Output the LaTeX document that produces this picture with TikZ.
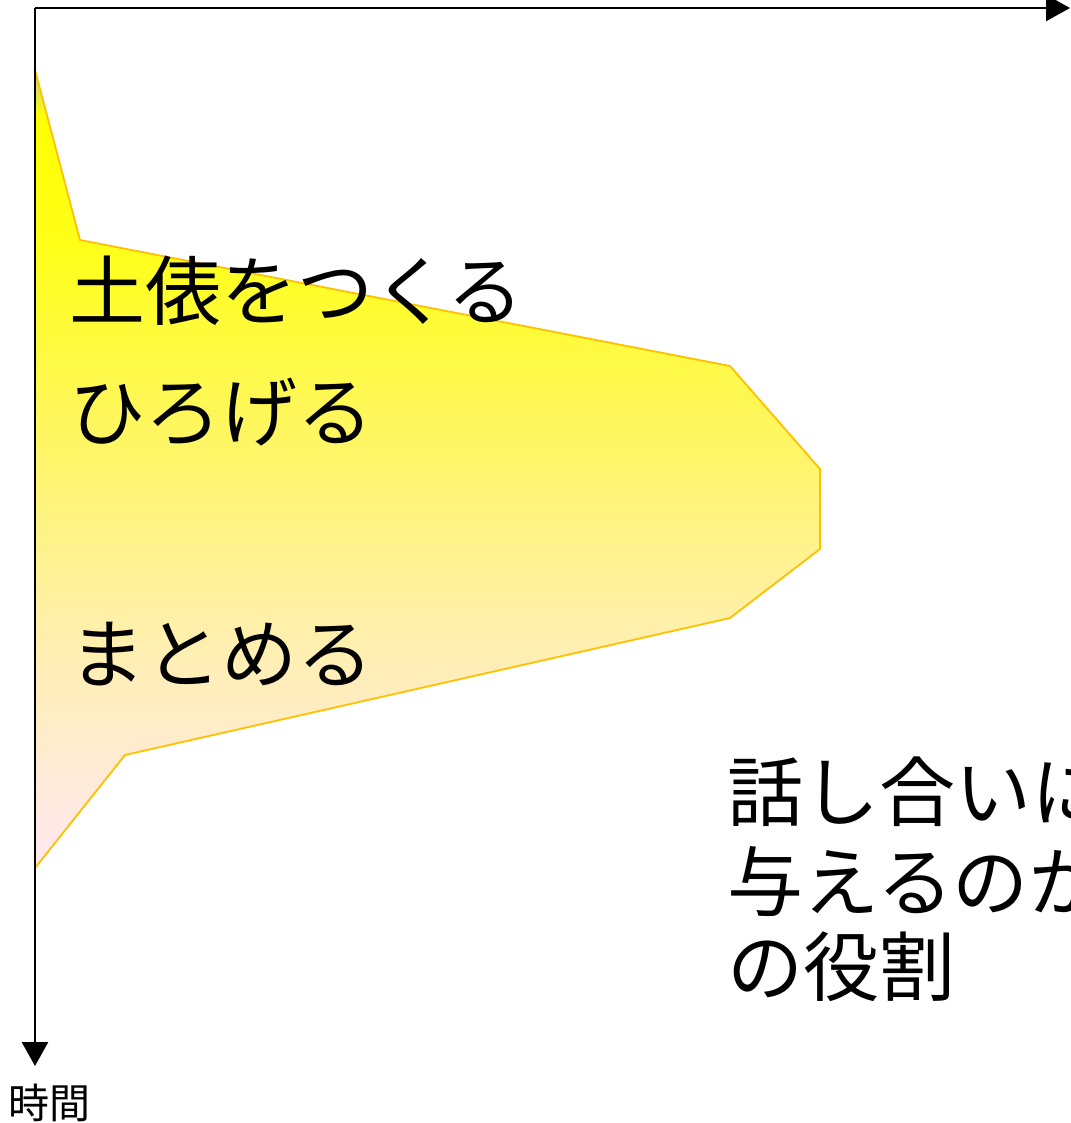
\documentclass[tikz,border=0pt]{standalone}
\usepackage{fontspec}
\usetikzlibrary{arrows.meta}
\newfontfamily\jpfont{Noto Sans CJK JP}
\definecolor{rimgold}{RGB}{255,192,0}

% fade from yellow down to pale pink
\pgfdeclareverticalshading{stagefade}{100bp}{%
  rgb(0bp)=(1,0.91,0.95); rgb(25bp)=(1,0.91,0.95);
  rgb(40.5bp)=(1,0.94,0.66); rgb(54bp)=(1,0.97,0.34);
  rgb(64bp)=(1,1,0.1); rgb(72bp)=(1,1,0); rgb(75bp)=(0.78,0.8,0.55);
  rgb(100bp)=(0.78,0.8,0.55)}

\tikzset{
  axis/.style={line width=2.6pt, -{Triangle[length=24pt, width=26pt]}},
  stage/.style={draw=rimgold, line width=1.8pt, shading=stagefade},
  bigtext/.style={anchor=west, inner sep=0pt, font=\jpfont\fontsize{76}{90}\selectfont},
  smalltext/.style={anchor=west, inner sep=0pt, font=\jpfont\fontsize{41}{48}\selectfont}
}

\begin{document}
\begin{tikzpicture}[x=1pt, y=-1pt]
    \useasboundingbox (0,0) rectangle (1070,1123);

    % Axes
    \coordinate (origin) at (35,8);
    \coordinate (right end) at (1070,8);
    \coordinate (bottom end) at (35,1066);
    \draw[axis] (origin) -- (right end);
    \draw[axis] (origin) -- (bottom end);

    % Shape of the talk
    \path[stage] (35,70) -- (80,240) -- (730,366) -- (820,469) -- (820,549)
        -- (730,618) -- (125,755) -- (35,868) -- cycle;
    \draw[line width=2.6pt] (35,60) -- (35,880);

    % Labels
    \node[bigtext] (make) at (69,291) {土俵をつくる};
    \node[bigtext] (widen) at (69,412) {ひろげる};
    \node[bigtext] (sum) at (69,654) {まとめる};
    \node[bigtext] (role1) at (727,792) {話し合いに};
    \node[bigtext] (role2) at (727,882) {与えるのか};
    \node[bigtext] (role3) at (727,967) {の役割};
    \node[smalltext] (time) at (8,1103) {時間};
\end{tikzpicture}
\end{document}
